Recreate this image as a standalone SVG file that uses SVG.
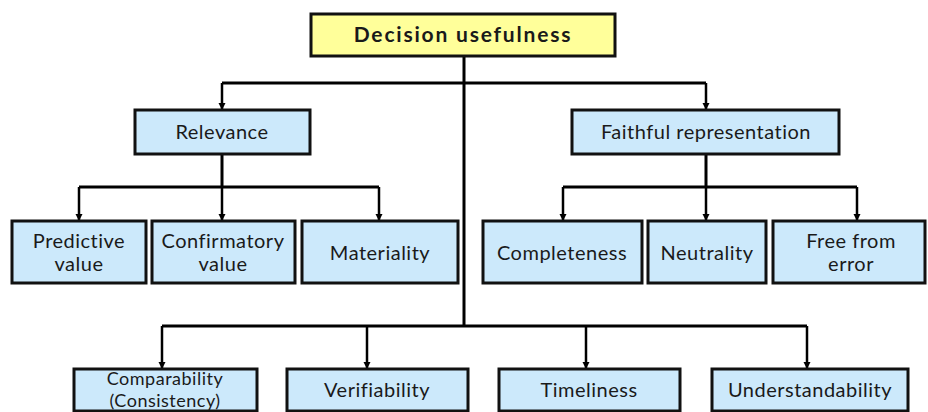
<svg xmlns="http://www.w3.org/2000/svg" width="928" height="412" viewBox="0 0 928 412">
  <defs>
    <marker id="arrow" viewBox="0 0 10 10" refX="10" refY="5" markerWidth="3" markerHeight="3" markerUnits="strokeWidth" orient="auto">
      <path d="M0,0 L10,5 L0,10 z" fill="#000"/>
    </marker>
    <style>
      .box { fill: #cce9fb; stroke: #111; stroke-width: 3; }
      .root { fill: #ffff9a; stroke: #111; stroke-width: 3; }
      .lbl { font-family: Lato, "Open Sans", "Liberation Sans", sans-serif; font-size: 20px; letter-spacing: 0.5px; fill: #1a1a1a; text-anchor: middle; }
      .bold { font-weight: bold; font-size: 21px; letter-spacing: 1.8px; }
      .small { font-size: 18px; }
      .wire { fill: none; stroke: #000; stroke-width: 3; }
      .arr { fill: none; stroke: #000; stroke-width: 2.5; marker-end: url(#arrow); }
    </style>
  </defs>
  <rect width="928" height="412" fill="#fff"/>

  <!-- connectors -->
  <g id="connectors">
    <!-- main trunk -->
    <path class="wire" d="M464,56 V326"/>
    <path class="wire" d="M222,83 H706"/>
    <path class="arr" d="M222,83 V110"/>
    <path class="arr" d="M706,83 V110"/>
    <!-- relevance children -->
    <path class="wire" d="M222,154 V187"/>
    <path class="wire" d="M79,187 H379"/>
    <path class="arr" d="M79,187 V221"/>
    <path class="arr" d="M222,187 V221"/>
    <path class="arr" d="M379,187 V221"/>
    <!-- faithful representation children -->
    <path class="wire" d="M706,154 V187"/>
    <path class="wire" d="M563,187 H857"/>
    <path class="arr" d="M563,187 V221"/>
    <path class="arr" d="M706,187 V221"/>
    <path class="arr" d="M857,187 V221"/>
    <!-- enhancing characteristics -->
    <path class="wire" d="M162,326 H807"/>
    <path class="arr" d="M162,326 V369"/>
    <path class="arr" d="M367,326 V369"/>
    <path class="arr" d="M586,326 V369"/>
    <path class="arr" d="M807,326 V369"/>
  </g>

  <g id="decision-usefulness">
    <rect class="root" x="311" y="14" width="304" height="42"/>
    <text class="lbl bold" x="463" y="42">Decision usefulness</text>
  </g>

  <g id="relevance">
    <rect class="box" x="135" y="110" width="175" height="44"/>
    <text class="lbl" x="222" y="139">Relevance</text>
  </g>
  <g id="faithful-representation">
    <rect class="box" x="572" y="110" width="267" height="44"/>
    <text class="lbl" x="706" y="139">Faithful representation</text>
  </g>

  <g id="predictive-value">
    <rect class="box" x="12" y="221" width="134" height="62"/>
    <text class="lbl" x="79" y="248">Predictive</text>
    <text class="lbl" x="79" y="271">value</text>
  </g>
  <g id="confirmatory-value">
    <rect class="box" x="152" y="221" width="143" height="62"/>
    <text class="lbl" x="223" y="248">Confirmatory</text>
    <text class="lbl" x="223" y="271">value</text>
  </g>
  <g id="materiality">
    <rect class="box" x="302" y="221" width="156" height="62"/>
    <text class="lbl" x="380" y="260">Materiality</text>
  </g>
  <g id="completeness">
    <rect class="box" x="483" y="221" width="159" height="62"/>
    <text class="lbl" x="562" y="260">Completeness</text>
  </g>
  <g id="neutrality">
    <rect class="box" x="648" y="221" width="118" height="62"/>
    <text class="lbl" x="707" y="260">Neutrality</text>
  </g>
  <g id="free-from-error">
    <rect class="box" x="773" y="221" width="152" height="62"/>
    <text class="lbl" x="851" y="248">Free from</text>
    <text class="lbl" x="851" y="271">error</text>
  </g>

  <g id="comparability">
    <rect class="box" x="74" y="369" width="183" height="42"/>
    <text class="lbl small" x="165" y="385">Comparability</text>
    <text class="lbl small" x="165" y="407">(Consistency)</text>
  </g>
  <g id="verifiability">
    <rect class="box" x="287" y="369" width="181" height="42"/>
    <text class="lbl" x="377" y="397">Verifiability</text>
  </g>
  <g id="timeliness">
    <rect class="box" x="499" y="369" width="181" height="42"/>
    <text class="lbl" x="589" y="397">Timeliness</text>
  </g>
  <g id="understandability">
    <rect class="box" x="712" y="369" width="196" height="42"/>
    <text class="lbl" x="810" y="397">Understandability</text>
  </g>
</svg>
